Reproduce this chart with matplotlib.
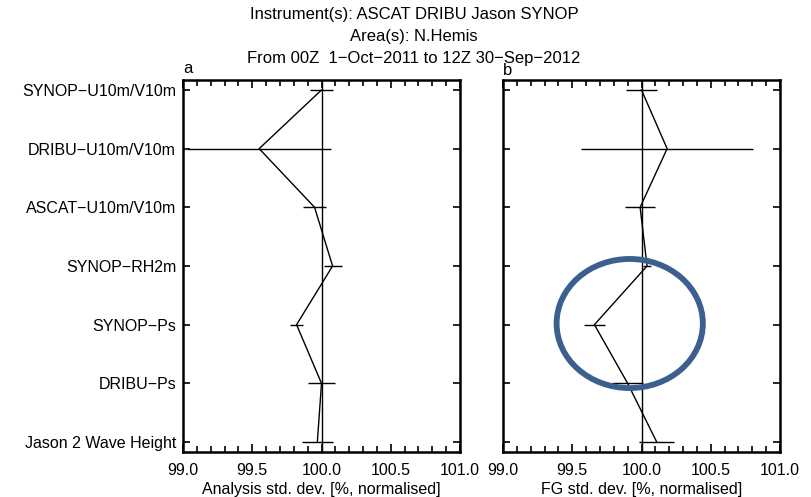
import matplotlib
matplotlib.use("Agg")
import matplotlib.pyplot as plt
from matplotlib.patches import Ellipse
from matplotlib.ticker import MultipleLocator, FixedLocator

categories = ["SYNOP\u2212U10m/V10m", "DRIBU\u2212U10m/V10m", "ASCAT\u2212U10m/V10m",
              "SYNOP\u2212RH2m", "SYNOP\u2212Ps", "DRIBU\u2212Ps", "Jason 2 Wave Height"]
an_values = [100.00, 99.55, 99.95, 100.08, 99.82, 100.00, 99.97]
an_errors = [0.08, 0.52, 0.085, 0.065, 0.05, 0.10, 0.11]
fg_values = [100.00, 100.185, 99.99, 100.04, 99.66, 99.90, 100.11]
fg_errors = [0.11, 0.62, 0.11, 0.03, 0.075, 0.11, 0.125]
xticks = [99.0, 99.5, 100.0, 100.5, 101.0]

plt.rcParams['font.family'] = ['Liberation Sans', 'DejaVu Sans']
fig = plt.figure(figsize=(8.12, 4.97), dpi=100)

W, H = 812, 497
def ax_rect(l, r, t, b):
    return [l / W, 1 - b / H, (r - l) / W, (b - t) / H]

axa = fig.add_axes(ax_rect(183, 460, 80, 452))
axb = fig.add_axes(ax_rect(503, 780, 80, 452))

ypos = list(range(len(categories)))
for ax, vals, errs, xlabel in [(axa, an_values, an_errors, "Analysis std. dev. [%, normalised]"),
                               (axb, fg_values, fg_errors, "FG std. dev. [%, normalised]")]:
    ax.axvline(100.0, color='black', lw=1.0)
    ax.plot(vals, ypos, color='black', lw=1.0)
    ax.errorbar(vals, ypos, xerr=errs, fmt='none', ecolor='black', elinewidth=1.0, capsize=0)
    ax.set_xlim(99.0, 101.0)
    ax.set_ylim(6.17, -0.17)
    ax.xaxis.set_major_locator(FixedLocator(xticks))
    ax.xaxis.set_minor_locator(MultipleLocator(0.1))
    ax.set_xticklabels([f"{t:.1f}" for t in xticks])
    ax.set_yticks(ypos)
    ax.tick_params(axis='both', which='both', direction='in', top=True, right=True,
                   width=1.2, labelsize=11.5, pad=5)
    ax.tick_params(axis='x', which='both', pad=8)
    ax.tick_params(axis='x', which='major', length=6)
    ax.tick_params(axis='x', which='minor', length=4)
    ax.tick_params(axis='y', which='major', length=5)
    for s in ax.spines.values():
        s.set_linewidth(1.8)
    ax.set_xlabel(xlabel, fontsize=11.5, labelpad=3)

axa.set_yticklabels(categories)
axb.set_yticklabels([])

axa.text(0.0, 1.01, "a", transform=axa.transAxes, fontsize=12, ha='left', va='bottom')
axb.text(0.0, 1.005, "b", transform=axb.transAxes, fontsize=12, ha='left', va='bottom')

title_font = ['Liberation Sans Narrow', 'Liberation Sans', 'DejaVu Sans']
fig.text(414 / W, 1 - 14 / H, "Instrument(s): ASCAT DRIBU Jason SYNOP", ha='center', va='center',
         fontsize=12, family=title_font)
fig.text(414 / W, 1 - 36 / H, "Area(s): N.Hemis", ha='center', va='center',
         fontsize=12, family=title_font)
fig.text(414 / W, 1 - 58 / H, "From 00Z  1\u2212Oct\u22122011 to 12Z 30\u2212Sep\u22122012", ha='center', va='center',
         fontsize=12, family=title_font)

ell = Ellipse((99.915, 3.98), width=1.056, height=2.2, fill=False, edgecolor='#3B5F8E',
              lw=4.2, clip_on=False, zorder=5)
axb.add_patch(ell)

fig.savefig("out.png", dpi=100)
